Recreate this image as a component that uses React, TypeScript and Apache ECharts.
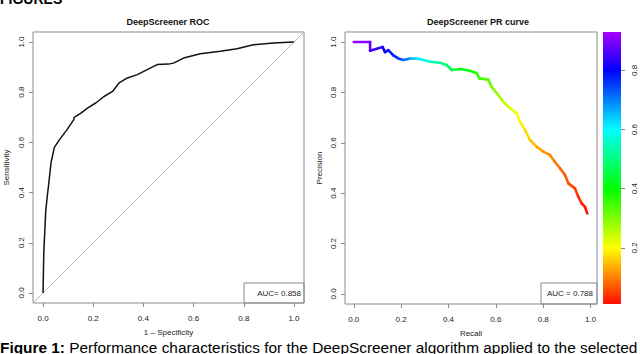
import React, { useEffect, useRef } from 'react';
import * as echarts from 'echarts';

// ROC curve (1 - specificity, sensitivity)
const rocFpr = [0, 0.003, 0.009, 0.011, 0.019, 0.021, 0.032, 0.045, 0.065, 0.095, 0.122, 0.124, 0.151, 0.177, 0.21, 0.243, 0.277, 0.303, 0.336, 0.376, 0.415, 0.455, 0.5, 0.52, 0.56, 0.627, 0.706, 0.773, 0.838, 0.918, 0.997, 1.0];
const rocTpr = [0, 0.16, 0.29, 0.33, 0.405, 0.42, 0.52, 0.58, 0.61, 0.65, 0.69, 0.70, 0.717, 0.737, 0.757, 0.783, 0.803, 0.837, 0.857, 0.87, 0.89, 0.91, 0.912, 0.916, 0.936, 0.953, 0.963, 0.973, 0.989, 0.996, 1.0, 1.0];

// PR curve (recall, precision, threshold)
const prRecall = [0, 0.069, 0.069, 0.122, 0.132, 0.146, 0.167, 0.188, 0.21, 0.238, 0.266, 0.294, 0.322, 0.364, 0.392, 0.414, 0.449, 0.49, 0.52, 0.53, 0.568, 0.582, 0.61, 0.631, 0.66, 0.688, 0.702, 0.723, 0.744, 0.772, 0.8, 0.828, 0.849, 0.871, 0.892, 0.906, 0.934, 0.948, 0.962, 0.976, 0.986];
const prPrecision = [1.0, 1.0, 0.966, 0.98, 0.96, 0.968, 0.947, 0.935, 0.929, 0.935, 0.935, 0.929, 0.922, 0.918, 0.909, 0.889, 0.893, 0.886, 0.876, 0.856, 0.851, 0.822, 0.79, 0.763, 0.737, 0.717, 0.684, 0.651, 0.611, 0.585, 0.565, 0.552, 0.525, 0.499, 0.472, 0.439, 0.419, 0.386, 0.36, 0.346, 0.32];
const prThreshold = [0.93, 0.9, 0.87, 0.82, 0.8, 0.79, 0.78, 0.76, 0.73, 0.68, 0.63, 0.6, 0.56, 0.52, 0.48, 0.46, 0.43, 0.4, 0.37, 0.36, 0.33, 0.31, 0.28, 0.26, 0.23, 0.21, 0.2, 0.18, 0.16, 0.14, 0.12, 0.11, 0.1, 0.08, 0.07, 0.06, 0.05, 0.04, 0.03, 0.02, 0.01];

const axisTicks = [0, 0.2, 0.4, 0.6, 0.8, 1.0];
const colorbarTicks = [0.2, 0.4, 0.6, 0.8];
const colorbarMin = 0.01;
const colorbarMax = 0.93;
const palette = ['#FF0000', '#FFFF00', '#00FF00', '#00FFFF', '#0000FF', '#FF00FF'];

const rocBounds = [-0.04, 1.04];
const prXBounds = [-0.037, 1.027];
const prYBounds = [-0.04, 1.04];

const FONT = '"Liberation Sans", Arial, Helvetica, sans-serif';
const FRAME = '#8a8a8a';
const LABEL = '#222';

export default function App() {
  const ref = useRef<HTMLDivElement>(null);

  useEffect(() => {
    const chart = echarts.init(ref.current!, null, { renderer: 'svg' });

    const fmt = (v: number) => v.toFixed(1);

    const xAxisBase = (gridIndex: number, bounds: number[], name: string) => ({
      type: 'value',
      gridIndex,
      min: bounds[0],
      max: bounds[1],
      axisLine: { show: false, onZero: false },
      splitLine: { show: false },
      axisTick: { show: true, customValues: axisTicks, length: 4, lineStyle: { color: FRAME } },
      axisLabel: { customValues: axisTicks, formatter: fmt, fontSize: 8, color: LABEL, margin: 11, fontFamily: FONT },
      name,
      nameLocation: 'middle',
      nameGap: 25,
      nameTextStyle: { fontSize: 8, color: LABEL, fontFamily: FONT },
    });

    const yAxisBase = (gridIndex: number, bounds: number[], name: string, nameGap: number) => ({
      type: 'value',
      gridIndex,
      min: bounds[0],
      max: bounds[1],
      axisLine: { show: false, onZero: false },
      splitLine: { show: false },
      axisTick: { show: true, customValues: axisTicks, length: 4, lineStyle: { color: FRAME } },
      axisLabel: { customValues: axisTicks, formatter: fmt, fontSize: 8, color: LABEL, margin: 8, rotate: 90, fontFamily: FONT },
      name,
      nameLocation: 'middle',
      nameGap,
      nameTextStyle: { fontSize: 8, color: LABEL, fontFamily: FONT },
    });

    const rocData = rocFpr.map((x, i) => [x, rocTpr[i]]);
    const prSegments = prRecall.slice(0, -1).map((x, i) => [
      x,
      prPrecision[i],
      prRecall[i + 1],
      prPrecision[i + 1],
      (prThreshold[i] + prThreshold[i + 1]) / 2,
    ]);

    const span = colorbarMax - colorbarMin;
    const stopValues = [colorbarMax, 0.8, 0.6, 0.4, 0.2, colorbarMin];
    const gradientStops = stopValues.map((v) => ({
      offset: (colorbarMax - v) / span,
      color: echarts.color.lerp(v, palette) as string,
    }));

    chart.setOption({
      animation: false,
      backgroundColor: '#fff',
      textStyle: { fontFamily: FONT },
      grid: [
        { left: 33, top: 32, width: 271, height: 271, show: true, borderColor: FRAME, borderWidth: 1, backgroundColor: 'transparent' },
        { left: 345, top: 32, width: 252, height: 272, show: true, borderColor: FRAME, borderWidth: 1, backgroundColor: 'transparent' },
        { left: 603, top: 32, width: 18, height: 272, show: false },
      ],
      xAxis: [
        xAxisBase(0, rocBounds, '1 – Specificity'),
        xAxisBase(1, prXBounds, 'Recall'),
        { type: 'value', gridIndex: 2, min: 0, max: 1, show: false, axisLine: { onZero: false } },
      ],
      yAxis: [
        yAxisBase(0, rocBounds, 'Sensitivity', 23),
        yAxisBase(1, prYBounds, 'Precision', 22),
        {
          type: 'value',
          gridIndex: 2,
          position: 'right',
          min: colorbarMin,
          max: colorbarMax,
          axisLine: { show: false, onZero: false },
          splitLine: { show: false },
          axisTick: { show: true, customValues: colorbarTicks, length: 4, lineStyle: { color: FRAME } },
          axisLabel: { customValues: colorbarTicks, formatter: fmt, fontSize: 8, color: LABEL, margin: 9, rotate: 90, fontFamily: FONT },
        },
      ],
      visualMap: [
        {
          type: 'continuous',
          show: false,
          seriesIndex: 2,
          dimension: 4,
          min: 0,
          max: 1,
          inRange: { color: palette },
        },
      ],
      series: [
        {
          type: 'line',
          xAxisIndex: 0,
          yAxisIndex: 0,
          data: [
            [rocBounds[0], rocBounds[0]],
            [rocBounds[1], rocBounds[1]],
          ],
          symbol: 'none',
          lineStyle: { color: '#bdbdbd', width: 1 },
          silent: true,
          z: 1,
        },
        {
          type: 'line',
          xAxisIndex: 0,
          yAxisIndex: 0,
          data: rocData,
          symbol: 'none',
          lineStyle: { color: '#111', width: 1.5 },
          z: 2,
        },
        {
          type: 'custom',
          xAxisIndex: 1,
          yAxisIndex: 1,
          data: prSegments,
          renderItem: (params: any, api: any) => {
            const p1 = api.coord([api.value(0), api.value(1)]);
            const p2 = api.coord([api.value(2), api.value(3)]);
            return {
              type: 'line',
              shape: { x1: p1[0], y1: p1[1], x2: p2[0], y2: p2[1] },
              style: { stroke: api.visual('color'), lineWidth: 2.6, lineCap: 'round', fill: null },
            };
          },
        },
        {
          type: 'custom',
          xAxisIndex: 2,
          yAxisIndex: 2,
          data: [[0, colorbarMin, 1, colorbarMax]],
          renderItem: (params: any, api: any) => {
            const topLeft = api.coord([api.value(0), api.value(3)]);
            const bottomRight = api.coord([api.value(2), api.value(1)]);
            return {
              type: 'rect',
              shape: {
                x: topLeft[0],
                y: topLeft[1],
                width: bottomRight[0] - topLeft[0],
                height: bottomRight[1] - topLeft[1],
              },
              style: { fill: new echarts.graphic.LinearGradient(0, 0, 0, 1, gradientStops) },
            };
          },
        },
      ],
      graphic: [
        { type: 'text', x: 168, y: 22, style: { text: 'DeepScreener ROC', font: `bold 9px ${FONT}`, fill: '#111', align: 'center', verticalAlign: 'middle' } },
        { type: 'text', x: 478, y: 22, style: { text: 'DeepScreener PR curve', font: `bold 9px ${FONT}`, fill: '#111', align: 'center', verticalAlign: 'middle' } },
        { type: 'rect', shape: { x: 244, y: 283, width: 60, height: 20 }, style: { fill: 'transparent', stroke: FRAME, lineWidth: 1 } },
        { type: 'text', x: 301, y: 293.5, style: { text: 'AUC= 0.858', font: `8px ${FONT}`, fill: LABEL, align: 'right', verticalAlign: 'middle' } },
        { type: 'rect', shape: { x: 541, y: 283, width: 56, height: 21 }, style: { fill: 'transparent', stroke: FRAME, lineWidth: 1 } },
        { type: 'text', x: 593, y: 293.5, style: { text: 'AUC = 0.788', font: `8px ${FONT}`, fill: LABEL, align: 'right', verticalAlign: 'middle' } },
        { type: 'text', x: 0, y: -1, style: { text: 'FIGURES', font: `bold 14px ${FONT}`, fill: '#000', align: 'left', verticalAlign: 'middle' } },
        {
          type: 'text',
          x: 0,
          y: 347,
          style: {
            text: '{b|Figure 1:} Performance characteristics for the DeepScreener algorithm applied to the selected',
            font: `15.4px ${FONT}`,
            fill: '#000',
            align: 'left',
            verticalAlign: 'middle',
            rich: { b: { fontWeight: 'bold', fontSize: 15.4, fontFamily: FONT, fill: '#000' } },
          },
        },
      ],
    });

    return () => chart.dispose();
  }, []);

  return <div ref={ref} style={{ position: 'fixed', left: 0, top: 0, width: 640, height: 354 }} />;
}
